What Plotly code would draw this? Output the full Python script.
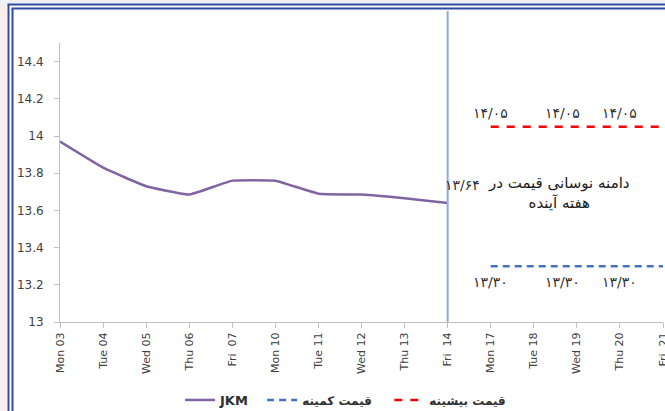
import plotly.graph_objects as go

# ---- data ----
dates = ["Mon 03", "Tue 04", "Wed 05", "Thu 06", "Fri\u00a0\u00a007", "Mon 10", "Tue 11",
         "Wed 12", "Thu 13", "Fri\u00a0\u00a014", "Mon 17", "Tue 18", "Wed 19", "Thu 20",
         "Fri\u00a0\u00a021"]
jkm_dates = dates[:10]
jkm_values = [13.97, 13.83, 13.73, 13.685, 13.76, 13.76, 13.69, 13.685, 13.665, 13.64]
forecast_dates = dates[10:]
max_price = [14.05, 14.05, 14.05, 14.05, 14.05]
min_price = [13.30, 13.30, 13.30, 13.30, 13.30]
max_label_dates = ["Mon 17", "Wed 19", "Thu 20"]
max_label_text = "۱۴/۰۵"
min_label_text = "۱۳/۳۰"
last_label_text = "۱۳/۶۴"
y_ticks = [13, 13.2, 13.4, 13.6, 13.8, 14, 14.2, 14.4]

W, H = 665, 411
L, R, T, B = 60, 2, 43, 89
pw, ph = W - L - R, H - T - B


def px_x(px):
    return (px - L) / pw


def px_y(py):
    return (H - B - py) / ph


fig = go.Figure()
fig.add_trace(go.Scatter(x=jkm_dates, y=jkm_values, mode="lines",
                         name="<b>JKM</b>\u00a0\u00a0",
                         line=dict(color="#8064a2", width=2.5, shape="spline", smoothing=0.3)))
fig.add_trace(go.Scatter(x=forecast_dates, y=min_price, mode="lines",
                         name="<span style='font-size:12px'><b>قیمت کمینه</b></span>\u00a0\u00a0\u00a0",
                         line=dict(color="#4472c4", width=2.5, dash="7px,5px")))
fig.add_trace(go.Scatter(x=forecast_dates, y=max_price, mode="lines",
                         name="<span style='font-size:12px'><b>قیمت بیشینه</b></span>",
                         line=dict(color="#ff0000", width=2.5, dash="8px,8px")))

lbl_font = dict(size=14, color="#303030", family="DejaVu Sans")
annots = []
shifts = {"Mon 17": 0, "Wed 19": -14, "Thu 20": 0}
for d in max_label_dates:
    annots.append(dict(x=d, y=max_price[0], xref="x", yref="y", text=max_label_text,
                       showarrow=False, yshift=14, xshift=shifts[d], xanchor="center",
                       font=lbl_font))
    annots.append(dict(x=d, y=min_price[0], xref="x", yref="y", text=min_label_text,
                       showarrow=False, yshift=-16, xshift=shifts[d], xanchor="center",
                       font=lbl_font))
annots.append(dict(x=jkm_dates[-1], y=jkm_values[-1], xref="x", yref="y", text=last_label_text,
                   showarrow=False, yshift=18, xshift=15, xanchor="center", font=lbl_font))
annots.append(dict(x=px_x(559), y=px_y(193), xref="paper", yref="paper",
                   xanchor="center", yanchor="middle",
                   text="دامنه نوسانی قیمت در<br>هفته آینده", showarrow=False,
                   font=dict(size=15, color="#202020", family="DejaVu Sans")))

shapes = [
    # page background outside the frame
    dict(type="rect", xref="paper", yref="paper", x0=px_x(0), x1=px_x(7), y0=px_y(H), y1=px_y(0),
         fillcolor="#f9eeee", line=dict(width=0), layer="below"),
    dict(type="rect", xref="paper", yref="paper", x0=px_x(0), x1=px_x(W), y0=px_y(3.5), y1=px_y(0),
         fillcolor="#eef1f8", line=dict(width=0), layer="below"),
    # double frame
    dict(type="line", xref="paper", yref="paper", x0=px_x(8.5), x1=px_x(8.5), y0=px_y(H), y1=px_y(4.5),
         line=dict(color="#2f4b9f", width=2)),
    dict(type="line", xref="paper", yref="paper", x0=px_x(12.5), x1=px_x(12.5), y0=px_y(H), y1=px_y(8.5),
         line=dict(color="#2f4b9f", width=2)),
    dict(type="line", xref="paper", yref="paper", x0=px_x(7.5), x1=px_x(W), y0=px_y(4.5), y1=px_y(4.5),
         line=dict(color="#2f4b9f", width=2)),
    dict(type="line", xref="paper", yref="paper", x0=px_x(11.5), x1=px_x(W), y0=px_y(8.5), y1=px_y(8.5),
         line=dict(color="#2f4b9f", width=2)),
    # vertical separator at last actual date
    dict(type="line", xref="x", yref="paper", x0=jkm_dates[-1], x1=jkm_dates[-1], y0=0, y1=px_y(11),
         line=dict(color="#8faadc", width=2)),
]

fig.update_layout(
    width=W, height=H,
    margin=dict(l=L, r=R, t=T, b=B, autoexpand=False),
    paper_bgcolor="white", plot_bgcolor="white",
    font=dict(family="DejaVu Sans", color="#404040"),
    showlegend=True,
    legend=dict(orientation="h", x=px_x(180), xanchor="left", y=px_y(400), yanchor="middle",
                font=dict(size=13, color="#303030"), bgcolor="rgba(0,0,0,0)", itemwidth=30),
    annotations=annots,
    shapes=shapes,
)
fig.update_xaxes(type="category", categoryorder="array", categoryarray=dates,
                 range=[0, len(dates) - 1], showgrid=False, showline=True, linecolor="#bfbfbf",
                 linewidth=1, ticks="outside", ticklen=5, tickcolor="#bfbfbf", tickangle=-90,
                 tickfont=dict(size=11, color="#404040"), zeroline=False, automargin=False)
fig.update_yaxes(range=[13, 14.5], tickvals=y_ticks, showgrid=False, showline=True,
                 linecolor="#bfbfbf", linewidth=1, ticks="outside", ticklen=5, tickcolor="#bfbfbf",
                 tickfont=dict(size=12, color="#404040"), zeroline=False, ticklabelstandoff=8,
                 automargin=False)

fig.write_html("out.html", config={"displayModeBar": False},
               post_script="document.body.style.margin='0px';")
